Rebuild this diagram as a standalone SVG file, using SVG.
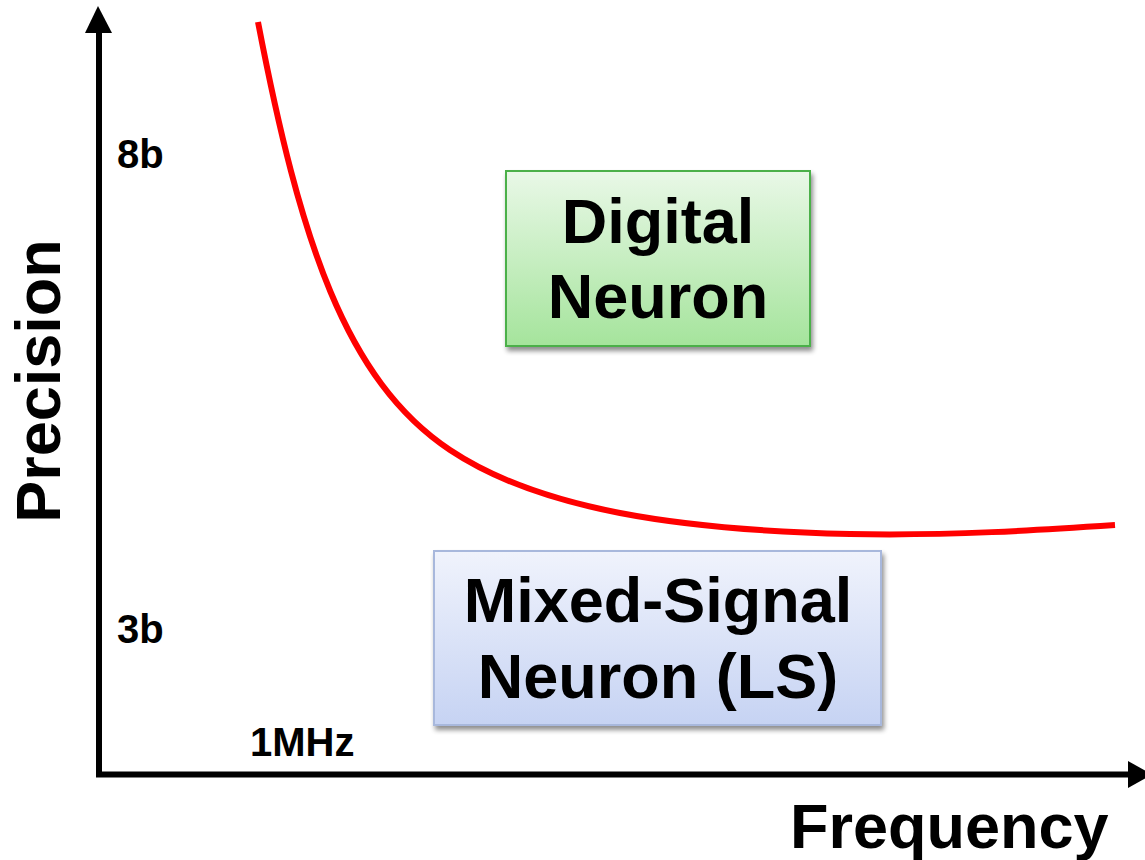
<svg xmlns="http://www.w3.org/2000/svg" width="1145" height="860" viewBox="0 0 1145 860">
<defs>
<linearGradient id="gGreen" x1="0" y1="0" x2="0" y2="1"><stop offset="0" stop-color="#e9f8e7"/><stop offset="1" stop-color="#a5e49c"/></linearGradient>
<linearGradient id="gBlue" x1="0" y1="0" x2="0" y2="1"><stop offset="0" stop-color="#f0f3fc"/><stop offset="1" stop-color="#c6d3f3"/></linearGradient>
<filter id="sh" x="-10%" y="-10%" width="125%" height="130%"><feGaussianBlur in="SourceAlpha" stdDeviation="2.5"/><feOffset dx="2" dy="4"/><feComponentTransfer><feFuncA type="linear" slope="0.45"/></feComponentTransfer><feMerge><feMergeNode/><feMergeNode in="SourceGraphic"/></feMerge></filter>
</defs>
<style>
text{font-family:"Liberation Sans",Arial,sans-serif;font-weight:bold;fill:#000}
.big{font-size:63px}
.tick{font-size:40px}
.axis{stroke:#000;stroke-width:6;fill:none}
</style>
<rect width="1145" height="860" fill="#fff"/>
<g id="connectors">
<line class="axis" x1="99" y1="30" x2="99" y2="777"/>
<polygon points="98,6 85,33 112,33"/>
<line class="axis" x1="96" y1="774.5" x2="1130" y2="774.5"/>
<polygon points="1152,774.5 1128,761 1128,788"/>
<path id="curve" d="M258,22 C300,240 345,380 450,450 C540,510 680,530 850,534 C950,536 1040,530 1115,525" fill="none" stroke="#ff0000" stroke-width="6"/>
</g>
<g id="digital">
<rect x="506" y="171" width="304" height="175" fill="url(#gGreen)" stroke="#4cb04a" stroke-width="2" filter="url(#sh)"/>
<text class="big" x="658" y="243" text-anchor="middle">Digital</text>
<text class="big" x="658" y="318" text-anchor="middle">Neuron</text>
</g>
<g id="mixed">
<rect x="434" y="551" width="447" height="174" fill="url(#gBlue)" stroke="#a8b8dc" stroke-width="2" filter="url(#sh)"/>
<text class="big" x="658" y="622" text-anchor="middle">Mixed-Signal</text>
<text class="big" x="658" y="698" text-anchor="middle">Neuron (LS)</text>
</g>
<g id="labels">
<text class="big" transform="translate(60,381) rotate(-90)" text-anchor="middle">Precision</text>
<text class="big" x="790" y="848">Frequency</text>
<text class="tick" x="117" y="168">8b</text>
<text class="tick" x="117" y="643">3b</text>
<text class="tick" x="250" y="756">1MHz</text>
</g>
</svg>
